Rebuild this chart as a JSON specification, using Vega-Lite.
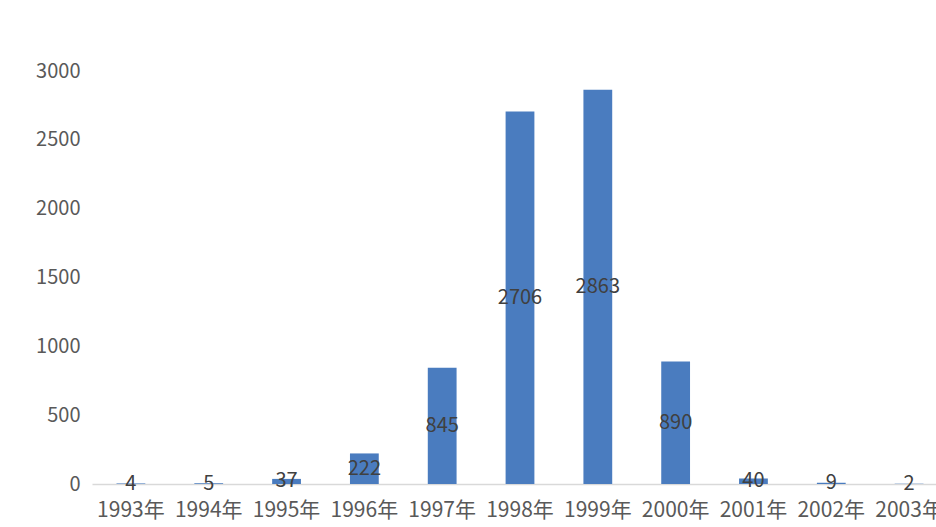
{
  "$schema": "https://vega.github.io/schema/vega-lite/v6.json",
  "autosize": {"type": "none"},
  "padding": {"left": 92, "top": 71, "right": 0, "bottom": 43},
  "width": 856,
  "height": 413,
  "background": "white",
  "config": {
    "view": {"stroke": null},
    "font": "Noto Sans CJK SC"
  },
  "data": {
    "values": [
      {"year": "1993年", "count": 4},
      {"year": "1994年", "count": 5},
      {"year": "1995年", "count": 37},
      {"year": "1996年", "count": 222},
      {"year": "1997年", "count": 845},
      {"year": "1998年", "count": 2706},
      {"year": "1999年", "count": 2863},
      {"year": "2000年", "count": 890},
      {"year": "2001年", "count": 40},
      {"year": "2002年", "count": 9},
      {"year": "2003年", "count": 2}
    ]
  },
  "encoding": {
    "x": {
      "field": "year", "type": "nominal", "sort": null,
      "scale": {"paddingInner": 0.63, "paddingOuter": 0.315},
      "axis": {
        "title": null, "labelAngle": 0, "ticks": false,
        "domainColor": "#d9d9d9", "domainWidth": 1.5,
        "labelFontSize": 21, "labelColor": "#595959", "labelPadding": 15,
        "labelFont": "Noto Sans CJK SC", "labelOverlap": false, "labelBound": false
      }
    }
  },
  "layer": [
    {
      "mark": {"type": "bar", "color": "#4a7cbf"},
      "encoding": {
        "y": {
          "field": "count", "type": "quantitative",
          "scale": {"domain": [0, 3000], "nice": false},
          "axis": {
            "title": null, "values": [0, 500, 1000, 1500, 2000, 2500, 3000],
            "format": "d",
            "grid": false, "domain": false, "ticks": false,
            "labelFontSize": 20, "labelColor": "#595959", "labelPadding": 12,
            "labelFont": "Noto Sans CJK SC"
          }
        }
      }
    },
    {
      "mark": {"type": "text", "fontSize": 20, "color": "#404040", "baseline": "middle", "font": "Noto Sans CJK SC"},
      "encoding": {
        "y": {
          "field": "count", "type": "quantitative",
          "scale": {"domain": [0, 6000], "nice": false},
          "axis": null
        },
        "text": {"field": "count", "type": "quantitative", "format": "d"}
      }
    }
  ],
  "resolve": {"scale": {"y": "independent"}}
}
